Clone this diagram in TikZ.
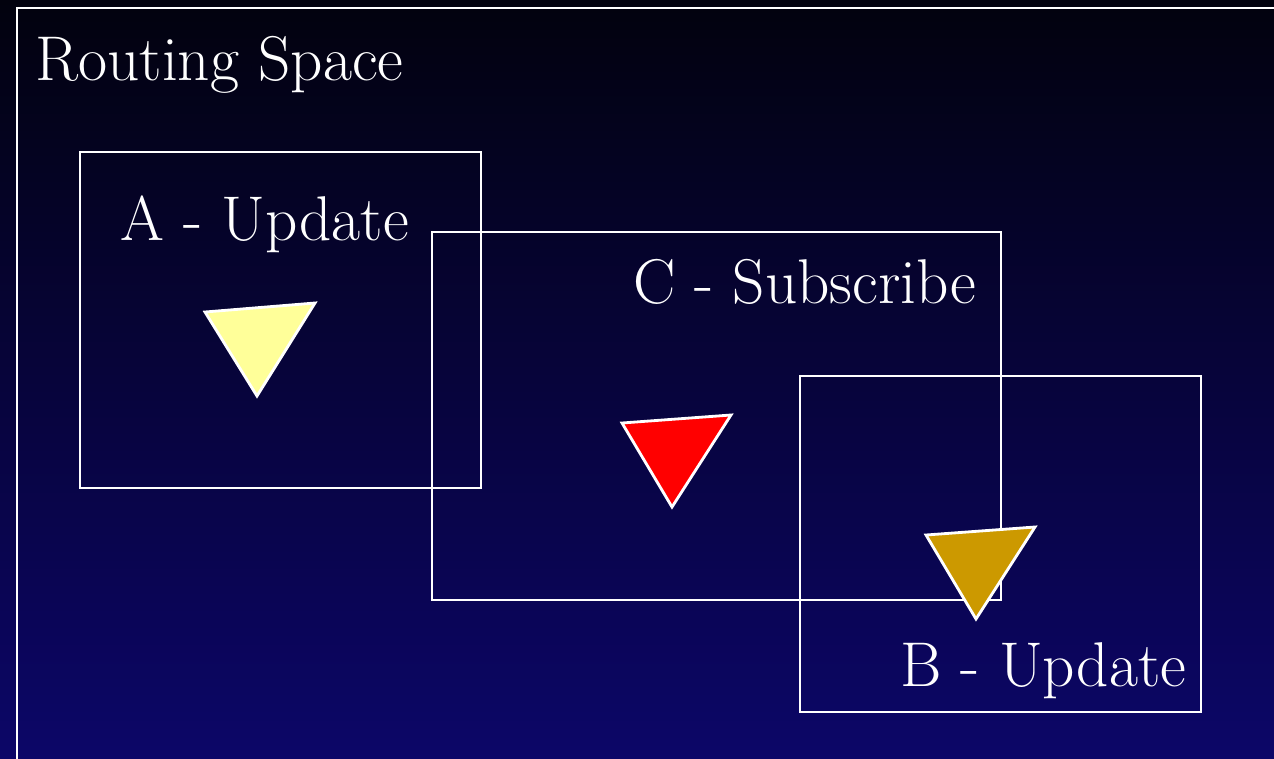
\documentclass[tikz,border=0pt]{standalone}
\usepackage{tikz}
\usetikzlibrary{positioning}
\definecolor{skytop}{RGB}{2,2,14}
\definecolor{skybottom}{RGB}{12,6,104}
\definecolor{pubyellow}{RGB}{255,255,153}
\definecolor{subred}{RGB}{255,0,0}
\definecolor{pubgold}{RGB}{204,153,0}

\begin{document}
\begin{tikzpicture}[
    x=0.02cm, y=-0.02cm,
    region/.style={draw=white, line width=1.6pt},
    regiontext/.style={text=white, inner sep=0pt, anchor=base west, font=\fontsize{36}{42}\selectfont},
    marker/.style={draw=white, line width=1.6pt, line join=miter}
]

% background and outer frame
\useasboundingbox (0,0) rectangle (1274,758);
\shade [top color=skytop, bottom color=skybottom] (0,0) rectangle (1274,758);
\clip (0,0) rectangle (1274,758);
\draw [region] (17,8) rectangle (1300,790);
\node (space) [regiontext] at (35,80) {Routing Space};

% regions
\draw [region] (80,152) rectangle (481,488);
\draw [region] (432,232) rectangle (1001,600);
\draw [region] (800,376) rectangle (1201,712);

\node (updateA) [regiontext] at (120,240) {A - Update};
\node (subscribeC) [regiontext] at (633,303) {C - Subscribe};
\node (updateB) [regiontext] at (900,686) {B - Update};

% markers
\draw [marker, fill=pubyellow] (205,312) -- (315,303) -- (257,396) -- cycle;
\draw [marker, fill=subred] (622,423) -- (731,415) -- (672,507) -- cycle;
\draw [marker, fill=pubgold] (926,535) -- (1035,527) -- (976,619) -- cycle;

\end{tikzpicture}
\end{document}
